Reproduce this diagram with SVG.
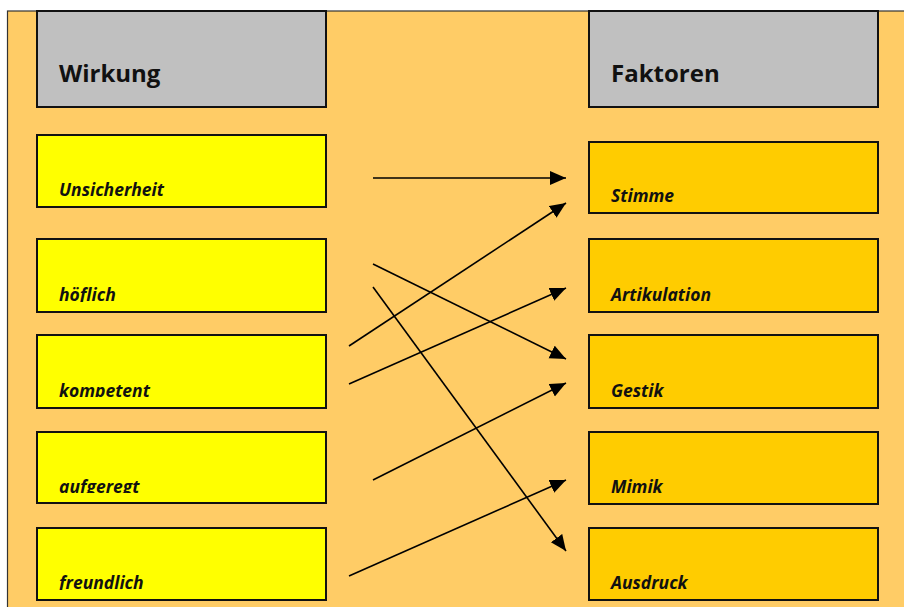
<svg xmlns="http://www.w3.org/2000/svg" width="904" height="607" viewBox="0 0 904 607">
  <style>
    .panel { fill: #FFCC66; stroke: #333333; stroke-width: 1.2; }
    .head { fill: #C0C0C0; stroke: #111111; stroke-width: 2; }
    .left { fill: #FFFF00; stroke: #111111; stroke-width: 2; }
    .right { fill: #FFCC00; stroke: #111111; stroke-width: 2; }
    .title { font-family: "Open Sans", "Liberation Sans", sans-serif; font-weight: bold; font-size: 24px; fill: #111111; }
    .label { font-family: "Open Sans", "Liberation Sans", sans-serif; font-weight: bold; font-style: italic; font-size: 17.5px; fill: #111111; }
    .conn line { stroke: #000000; stroke-width: 1.6; marker-end: url(#arrow); }
  </style>
  <defs>
    <marker id="arrow" markerUnits="userSpaceOnUse" markerWidth="17" markerHeight="15" refX="16" refY="7" orient="auto">
      <path d="M0,0 L16,7 L0,14 Z" fill="#000000"/>
    </marker>
    <!-- labels are cut off just below their baseline -->
    <clipPath id="c1"><rect x="37" y="135" width="289" height="62"/></clipPath>
    <clipPath id="c2"><rect x="37" y="239" width="289" height="63"/></clipPath>
    <clipPath id="c3"><rect x="37" y="335" width="289" height="62"/></clipPath>
    <clipPath id="c4"><rect x="37" y="432" width="289" height="61"/></clipPath>
    <clipPath id="c5"><rect x="37" y="528" width="289" height="62"/></clipPath>
    <clipPath id="d1"><rect x="589" y="142" width="289" height="61"/></clipPath>
    <clipPath id="d2"><rect x="589" y="239" width="289" height="63"/></clipPath>
    <clipPath id="d3"><rect x="589" y="335" width="289" height="62"/></clipPath>
    <clipPath id="d4"><rect x="589" y="432" width="289" height="62"/></clipPath>
    <clipPath id="d5"><rect x="589" y="528" width="289" height="62"/></clipPath>
  </defs>

  <rect width="904" height="607" fill="#FFFFFF"/>
  <rect class="panel" x="7.5" y="11" width="905" height="605"/>

  <g id="head-wirkung">
    <rect class="head" x="37" y="11" width="289" height="96"/>
    <text class="title" x="59" y="82">Wirkung</text>
  </g>
  <g id="head-faktoren">
    <rect class="head" x="589" y="11" width="289" height="96"/>
    <text class="title" x="611" y="82">Faktoren</text>
  </g>

  <g id="w-unsicherheit">
    <rect class="left" x="37" y="135" width="289" height="72"/>
    <text class="label" x="59" y="196" clip-path="url(#c1)">Unsicherheit</text>
  </g>
  <g id="w-hoeflich">
    <rect class="left" x="37" y="239" width="289" height="73"/>
    <text class="label" x="59" y="301" clip-path="url(#c2)">höflich</text>
  </g>
  <g id="w-kompetent">
    <rect class="left" x="37" y="335" width="289" height="73"/>
    <text class="label" x="59" y="397" clip-path="url(#c3)">kompetent</text>
  </g>
  <g id="w-aufgeregt">
    <rect class="left" x="37" y="432" width="289" height="71"/>
    <text class="label" x="59" y="493" clip-path="url(#c4)">aufgeregt</text>
  </g>
  <g id="w-freundlich">
    <rect class="left" x="37" y="528" width="289" height="72"/>
    <text class="label" x="59" y="589" clip-path="url(#c5)">freundlich</text>
  </g>

  <g id="f-stimme">
    <rect class="right" x="589" y="142" width="289" height="71"/>
    <text class="label" x="611" y="202" clip-path="url(#d1)">Stimme</text>
  </g>
  <g id="f-artikulation">
    <rect class="right" x="589" y="239" width="289" height="73"/>
    <text class="label" x="611" y="301" clip-path="url(#d2)">Artikulation</text>
  </g>
  <g id="f-gestik">
    <rect class="right" x="589" y="335" width="289" height="73"/>
    <text class="label" x="611" y="397" clip-path="url(#d3)">Gestik</text>
  </g>
  <g id="f-mimik">
    <rect class="right" x="589" y="432" width="289" height="72"/>
    <text class="label" x="611" y="493" clip-path="url(#d4)">Mimik</text>
  </g>
  <g id="f-ausdruck">
    <rect class="right" x="589" y="528" width="289" height="72"/>
    <text class="label" x="611" y="589" clip-path="url(#d5)">Ausdruck</text>
  </g>

  <g id="connectors" class="conn">
    <line x1="373" y1="178" x2="566" y2="178"/>
    <line x1="373" y1="264" x2="566" y2="359"/>
    <line x1="373" y1="287" x2="566" y2="551"/>
    <line x1="349" y1="346" x2="566" y2="203"/>
    <line x1="349" y1="384" x2="566" y2="288"/>
    <line x1="373" y1="480" x2="566" y2="383"/>
    <line x1="349" y1="576" x2="566" y2="480"/>
  </g>
</svg>
